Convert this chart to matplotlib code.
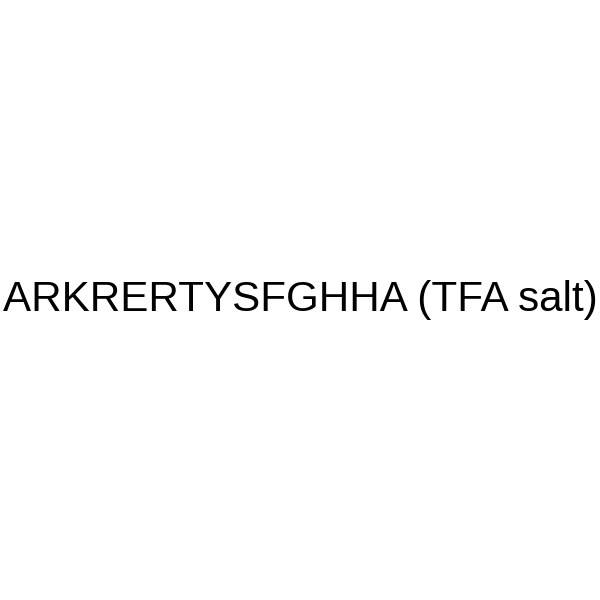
import matplotlib
matplotlib.use("Agg")
import matplotlib.pyplot as plt

TITULO = "ARKRERTYSFGHHA (TFA salt)"

fig = plt.figure(figsize=(6, 6), dpi=100)
fig.patch.set_facecolor("white")
fig.text(0.5, 1 - 311 / 600, TITULO, ha="center", va="baseline",
         fontsize=30.3, family="Liberation Sans", color="black")
fig.savefig("out.png", dpi=100, facecolor="white")
